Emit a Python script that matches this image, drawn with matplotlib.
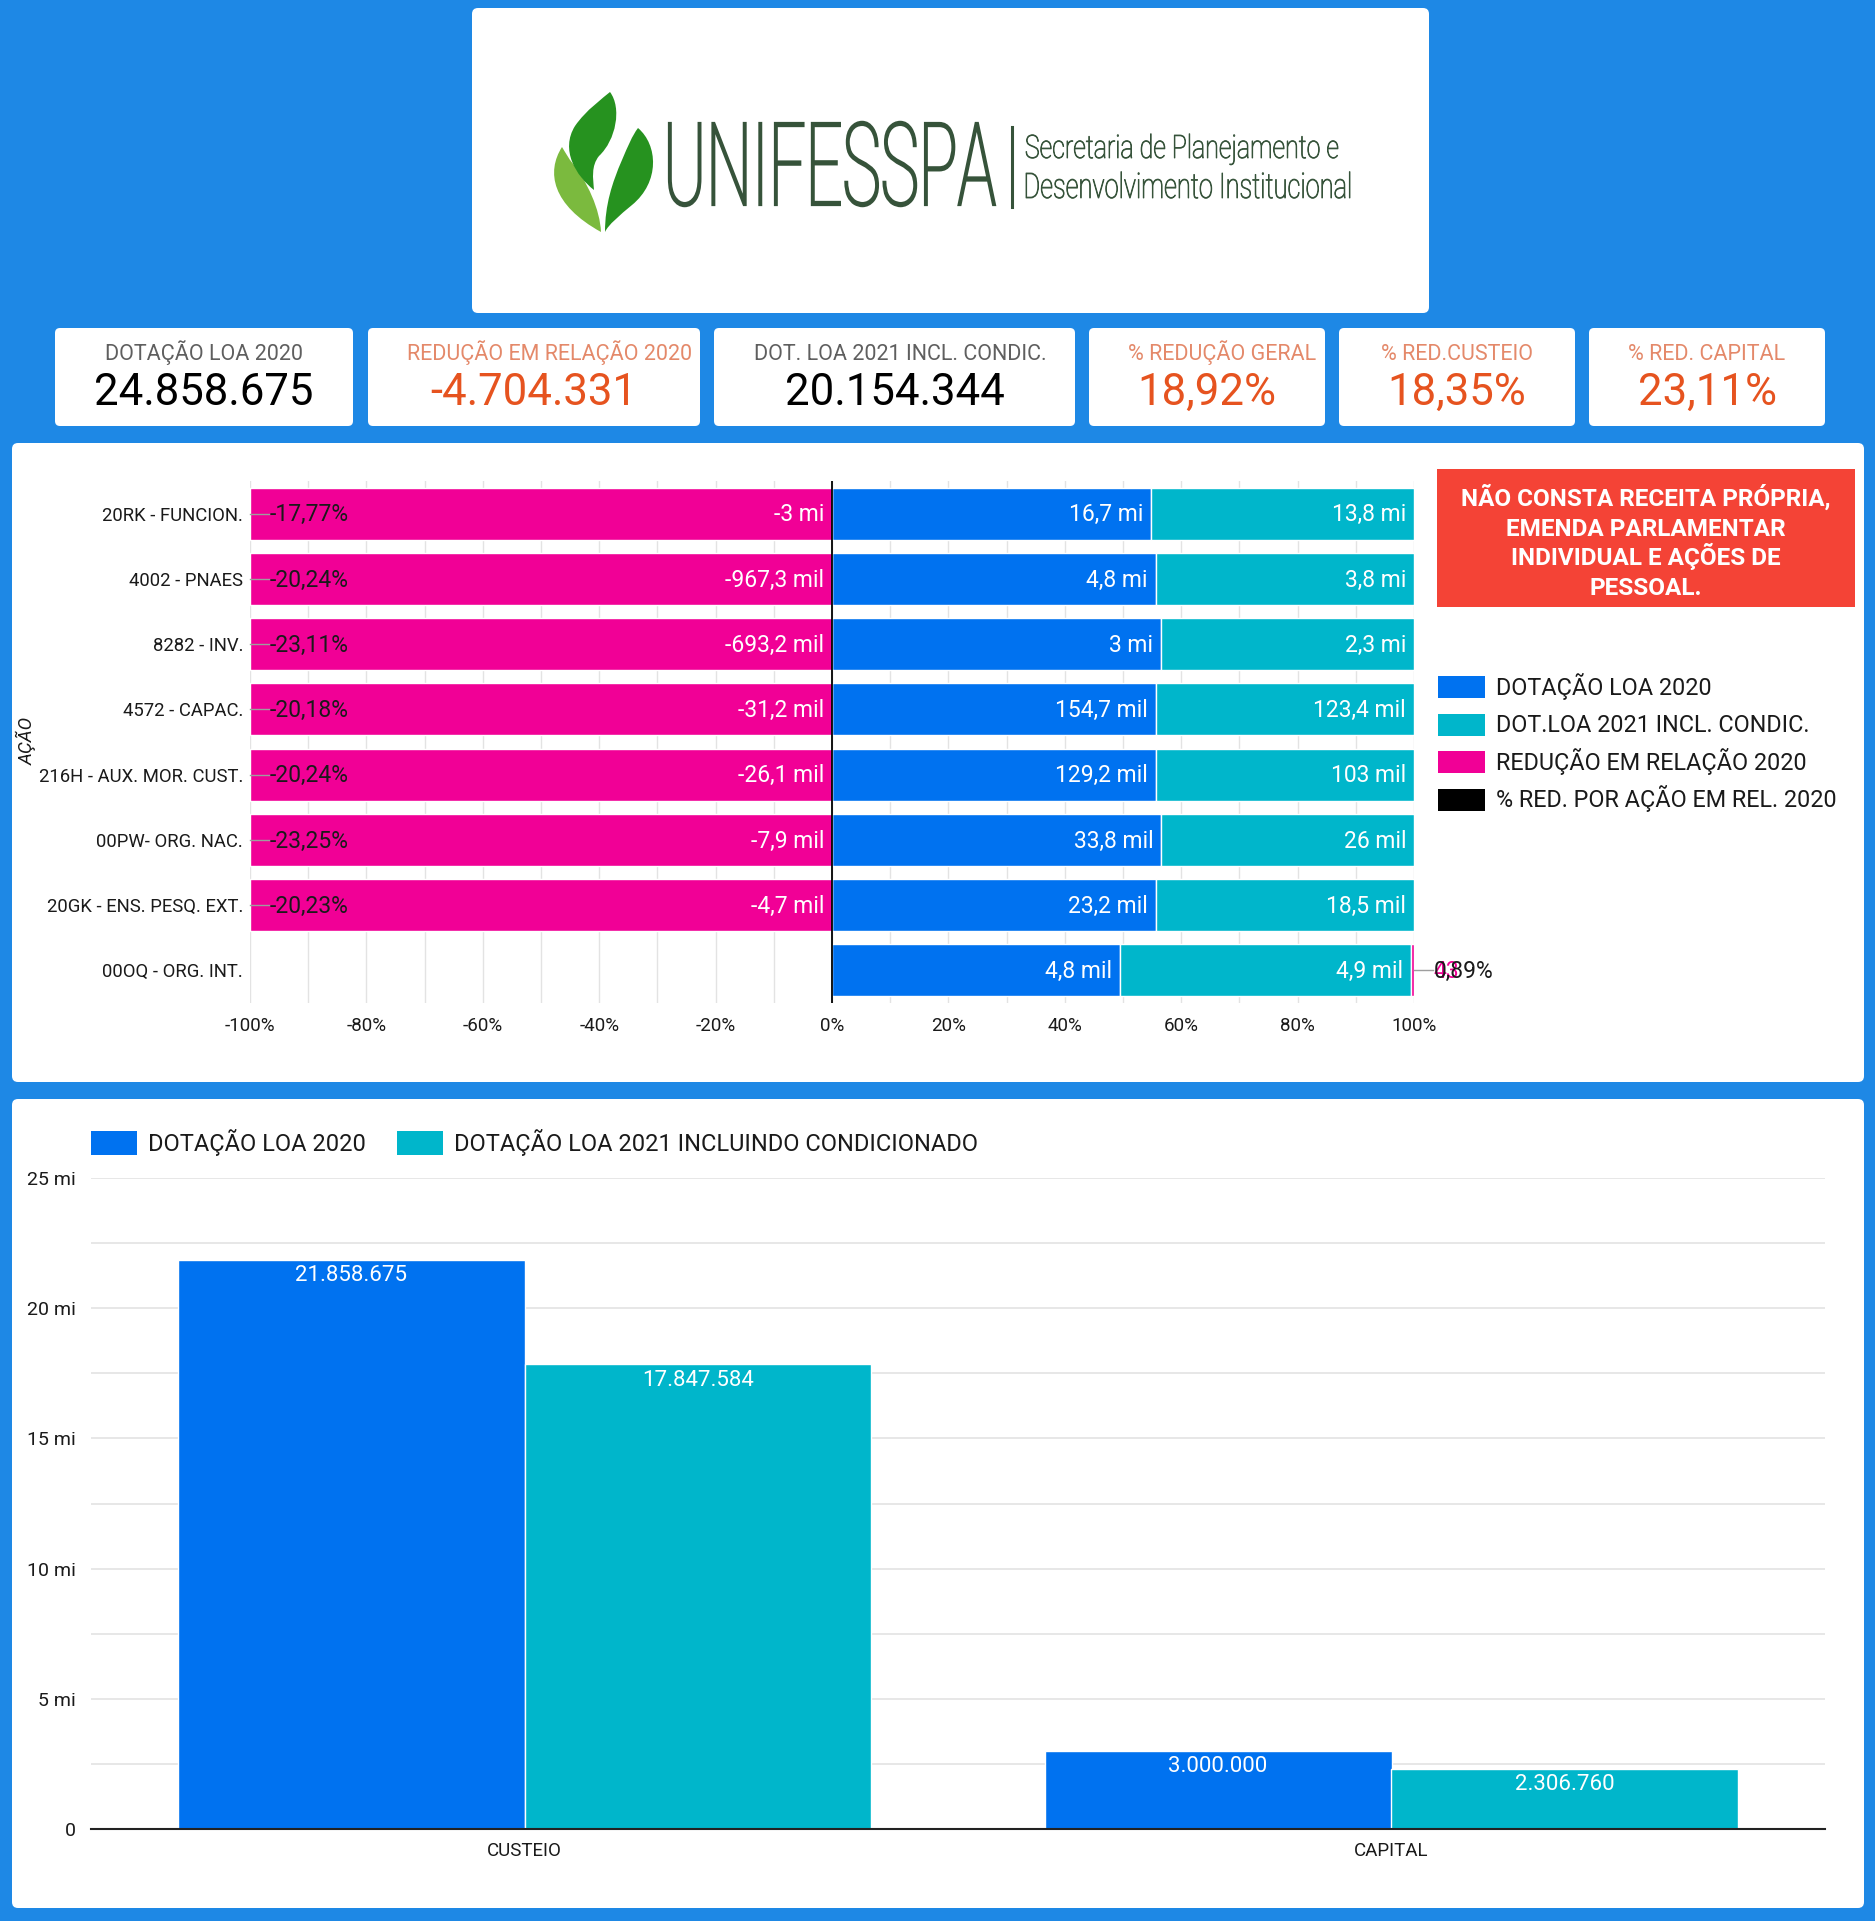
import numpy as np
import matplotlib.pyplot as plt
from matplotlib.patches import FancyBboxPatch, Rectangle, PathPatch
from matplotlib.path import Path
from matplotlib.textpath import TextPath
from matplotlib.font_manager import FontProperties
from matplotlib.transforms import Affine2D

plt.rcParams['font.family'] = ['Roboto', 'DejaVu Sans']

# ---- dados ----
kpi_titulos = ['DOTAÇÃO LOA 2020', 'REDUÇÃO EM RELAÇÃO 2020', 'DOT. LOA 2021 INCL. CONDIC.',
               '% REDUÇÃO GERAL', '% RED.CUSTEIO', '% RED. CAPITAL']
kpi_valores = ['24.858.675', '-4.704.331', '20.154.344', '18,92%', '18,35%', '23,11%']
kpi_destaque = [False, True, False, True, True, True]

acoes = ['20RK - FUNCION.', '4002 - PNAES', '8282 - INV.', '4572 - CAPAC.',
         '216H - AUX. MOR. CUST.', '00PW- ORG. NAC.', '20GK - ENS. PESQ. EXT.', '00OQ - ORG. INT.']
dot_2020 = [16_734_000, 4_779_000, 3_000_000, 154_700, 129_200, 33_840, 23_200, 4_810]
dot_2021 = [13_760_000, 3_811_700, 2_306_760, 123_400, 103_000, 25_970, 18_500, 4_853]
reducao = [-2_974_000, -967_300, -693_240, -31_200, -26_140, -7_870, -4_700, 43]
pct_red = [-17.77, -20.24, -23.11, -20.18, -20.24, -23.25, -20.23, 0.89]

categorias = ['CUSTEIO', 'CAPITAL']
loa_2020 = [21_858_675, 3_000_000]
loa_2021 = [17_847_584, 2_306_760]

AZUL = '#0072F0'
CIANO = '#00B6CB'
MAGENTA = '#F10096'
FUNDO = '#1E88E5'
LARANJA_T = '#E4896A'
LARANJA_V = '#E6531F'

W, H = 1875, 1921


def abrev(v):
    a = abs(v)
    if a >= 1e6:
        s, suf = f"{v/1e6:.1f}", ' mi'
    elif a >= 1e3:
        s, suf = f"{v/1e3:.1f}", ' mil'
    else:
        s, suf = f"{v:.0f}", ''
    if s.endswith('.0'):
        s = s[:-2]
    return s.replace('.', ',') + suf


def px_axes(x0, y0, x1, y1):
    return fig.add_axes([x0 / W, 1 - y1 / H, (x1 - x0) / W, (y1 - y0) / H])


fig = plt.figure(figsize=(W / 100, H / 100), dpi=100)
fig.patch.set_facecolor(FUNDO)

bg = fig.add_axes([0, 0, 1, 1])
bg.set_xlim(0, W)
bg.set_ylim(H, 0)
bg.axis('off')


def caixa(x0, y0, x1, y1, r=6, fc='white'):
    bg.add_patch(FancyBboxPatch((x0 + r, y0 + r), x1 - x0 - 2 * r, y1 - y0 - 2 * r,
                                boxstyle=f"round,pad={r}", fc=fc, ec='none'))


# paineis
caixa(472, 8, 1429, 313)
caixa(12, 443, 1864, 1082)
caixa(12, 1099, 1864, 1908)

# ---- logo ----
fp_logo = FontProperties(family='Roboto', weight='light')
cap_ref = TextPath((0, 0), 'H', size=100, prop=fp_logo).get_extents().y1


def texto_caixa(s, x0, x1, ytop, ybase, cor, lw):
    tp = TextPath((0, 0), s, size=100, prop=fp_logo)
    ext = tp.get_extents()
    sx = (x1 - x0) / (ext.x1 - ext.x0)
    sy = (ybase - ytop) / cap_ref
    tr = Affine2D().translate(-ext.x0, 0).scale(sx, -sy).translate(x0, ybase)
    bg.add_patch(PathPatch(tr.transform_path(tp), fc=cor, ec=cor, lw=lw))


VERDE_TXT = '#36533A'
texto_caixa('UNIFESSPA', 669, 995, 123, 205, VERDE_TXT, 1.6)
texto_caixa('Secretaria de Planejamento e', 1026, 1338, 135, 158, VERDE_TXT, 0.6)
texto_caixa('Desenvolvimento Institucional', 1026, 1350, 173, 198, VERDE_TXT, 0.6)
bg.plot([1012, 1012], [127, 207], color=VERDE_TXT, lw=2.2)


def folha(pts, cor):
    codes = [Path.MOVETO] + [Path.CURVE4] * (len(pts) - 1)
    bg.add_patch(PathPatch(Path(pts, codes), fc=cor, ec='none'))


folha([(562, 147), (546, 172), (552, 205), (601, 232),
       (600, 210), (588, 182), (570, 160), (566, 154), (564, 150), (562, 147)], '#7BBA3E')
folha([(610, 92), (622, 108), (616, 140), (599, 156),
       (591, 166), (593, 178), (594, 190), (576, 176), (560, 150), (575, 126),
       (586, 110), (603, 98), (610, 92)], '#26921F')
folha([(638, 128), (658, 145), (660, 182), (632, 205),
       (620, 215), (608, 225), (605, 232), (605, 205), (612, 183), (622, 160),
       (628, 146), (632, 136), (638, 128)], '#26921F')

# ---- cartoes KPI ----
cartoes = [(55, 353), (368, 700), (714, 1075), (1089, 1325), (1339, 1575), (1589, 1825)]
desloc_titulo = [0, 16, 6, 15, 0, 0]
for (x0, x1), t, v, d, dx in zip(cartoes, kpi_titulos, kpi_valores, kpi_destaque, desloc_titulo):
    caixa(x0, 328, x1, 426, r=5)
    xc = (x0 + x1) / 2
    bg.text(xc + dx, 360, t, ha='center', va='baseline', fontsize=15.5,
            color=LARANJA_T if d else '#5F5F5F')
    bg.text(xc, 405, v, ha='center', va='baseline', fontsize=31.5,
            color=LARANJA_V if d else 'black')

# ---- grafico de barras horizontais 100% ----
ax1 = px_axes(250, 481, 1414, 1003)
ax1.set_facecolor('none')
n = len(acoes)
UX = 582.0  # pixels por unidade no eixo x
for i in range(n):
    series = [(dot_2020[i], AZUL), (dot_2021[i], CIANO), (reducao[i], MAGENTA)]
    tot_pos = sum(v for v, _ in series if v > 0)
    tot_neg = -sum(v for v, _ in series if v < 0)
    acum_pos = 0.0
    acum_neg = 0.0
    for v, c in series:
        if v >= 0:
            f = v / tot_pos
            ax1.barh(i, f, left=acum_pos, height=0.8, color=c, edgecolor='white', lw=1, zorder=2)
            fim = acum_pos + f
            acum_pos = fim
            if f > 0.05:
                ax1.text(fim - 8 / UX, i + 0.02, abrev(v), ha='right', va='center',
                         color='white', fontsize=16.5, zorder=4)
            else:
                ax1.text(1.034, i + 0.02, abrev(v), ha='left', va='center',
                         color=c, fontsize=16.5, zorder=4)
        else:
            f = -v / tot_neg
            ax1.barh(i, -f, left=-acum_neg, height=0.8, color=c, edgecolor='white', lw=1, zorder=2)
            ax1.text(-acum_neg - 8 / UX, i + 0.02, abrev(v), ha='right', va='center',
                     color='white', fontsize=16.5, zorder=4)
            acum_neg += f
    p = pct_red[i]
    txt = f"{p:.2f}%".replace('.', ',')
    if p < 0:
        ax1.plot([-1.0, -0.968], [i, i], color='#9E9E9E', lw=1, zorder=3, clip_on=False)
        ax1.text(-0.966, i + 0.02, txt, ha='left', va='center', color='#1A1A1A', fontsize=16.5, zorder=5)
    else:
        ax1.plot([1.0, 1.032], [i, i], color='#9E9E9E', lw=1, zorder=3, clip_on=False)
        ax1.text(1.034, i + 0.02, txt, ha='left', va='center', color='#1A1A1A', fontsize=16.5, zorder=5)

ax1.axvline(0, color='black', lw=1.3, zorder=3)
ax1.set_xlim(-1, 1)
ax1.set_ylim(n - 0.5, -0.5)
ax1.set_yticks(np.arange(n), acoes)
xt = np.linspace(-1, 1, 11)
ax1.set_xticks(xt, [f"{int(round(t * 100))}%" for t in xt])
ax1.set_xticks(np.linspace(-1, 1, 21), minor=True)
ax1.grid(True, which='both', axis='x', color='#E3E3E3', lw=1)
ax1.set_axisbelow(True)
ax1.tick_params(axis='both', which='both', length=0)
ax1.tick_params(axis='y', labelsize=13.3, pad=5, labelcolor='#1A1A1A')
ax1.tick_params(axis='x', labelsize=13.5, pad=10, labelcolor='#1A1A1A')
for s in ax1.spines.values():
    s.set_visible(False)
bg.text(27, 741, 'AÇÃO', rotation=90, ha='center', va='center', fontsize=13.5,
        style='italic', color='#1A1A1A')

# aviso
bg.add_patch(Rectangle((1437, 469), 418, 138, fc='#F44336', ec='none'))
linhas_aviso = ['NÃO CONSTA RECEITA PRÓPRIA,', 'EMENDA PARLAMENTAR', 'INDIVIDUAL E AÇÕES DE', 'PESSOAL.']
for k, lin in enumerate(linhas_aviso):
    bg.text(1646, 506 + k * 29.7, lin, ha='center', va='baseline', color='white',
            fontsize=17.5, fontweight='bold')

# legenda do grafico superior
leg1 = ['DOTAÇÃO LOA 2020', 'DOT.LOA 2021 INCL. CONDIC.', 'REDUÇÃO EM RELAÇÃO 2020',
        '% RED. POR AÇÃO EM REL. 2020']
cores1 = [AZUL, CIANO, MAGENTA, 'black']
for k, (lab, c) in enumerate(zip(leg1, cores1)):
    yc = 687 + k * 37.5
    bg.add_patch(Rectangle((1438, yc - 11), 47, 22, fc=c, ec='none'))
    bg.text(1496, yc + 8, lab, ha='left', va='baseline', fontsize=16.8, color='#1A1A1A')

# ---- grafico de colunas ----
ax2 = px_axes(91, 1178, 1825, 1829)
ax2.set_facecolor('none')
x = np.arange(len(categorias))
b1 = ax2.bar(x - 0.2, loa_2020, 0.4, color=AZUL, edgecolor='white', lw=1, zorder=2)
b2 = ax2.bar(x + 0.2, loa_2021, 0.4, color=CIANO, edgecolor='white', lw=1, zorder=2)
for bars, vals in [(b1, loa_2020), (b2, loa_2021)]:
    for r, v in zip(bars, vals):
        ax2.annotate(f"{v:,}".replace(',', '.'), (r.get_x() + r.get_width() / 2, v),
                     xytext=(0, -11.5), textcoords='offset points', ha='center', va='center',
                     color='white', fontsize=16, zorder=4)
ax2.set_xlim(-0.5, 1.5)
ax2.set_ylim(0, 25e6)
yt = np.arange(0, 25e6 + 1, 5e6)
ax2.set_yticks(yt, ['0'] + [f"{int(t / 1e6)} mi" for t in yt[1:]])
ax2.set_yticks(np.arange(0, 25e6 + 1, 2.5e6), minor=True)
ax2.set_xticks(x, categorias)
ax2.grid(True, which='both', axis='y', color='#E3E3E3', lw=1.2)
ax2.set_axisbelow(True)
ax2.tick_params(axis='both', which='both', length=0)
ax2.tick_params(axis='y', labelsize=14, pad=11, labelcolor='#1A1A1A')
ax2.tick_params(axis='x', labelsize=13.5, pad=9, labelcolor='#1A1A1A')
for k, s in ax2.spines.items():
    s.set_visible(k == 'bottom')
ax2.spines['bottom'].set_color('#222222')
ax2.spines['bottom'].set_linewidth(1.5)
ax2.spines['bottom'].set_zorder(5)

leg2 = ['DOTAÇÃO LOA 2020', 'DOTAÇÃO LOA 2021 INCLUINDO CONDICIONADO']
for (xq, xt_), lab, c in zip([(91, 148), (397, 454)], leg2, [AZUL, CIANO]):
    bg.add_patch(Rectangle((xq, 1131), 46, 24, fc=c, ec='none'))
    bg.text(xt_, 1151, lab, ha='left', va='baseline', fontsize=17, color='#1A1A1A')

fig.savefig('out.png', dpi=100, facecolor=FUNDO)
